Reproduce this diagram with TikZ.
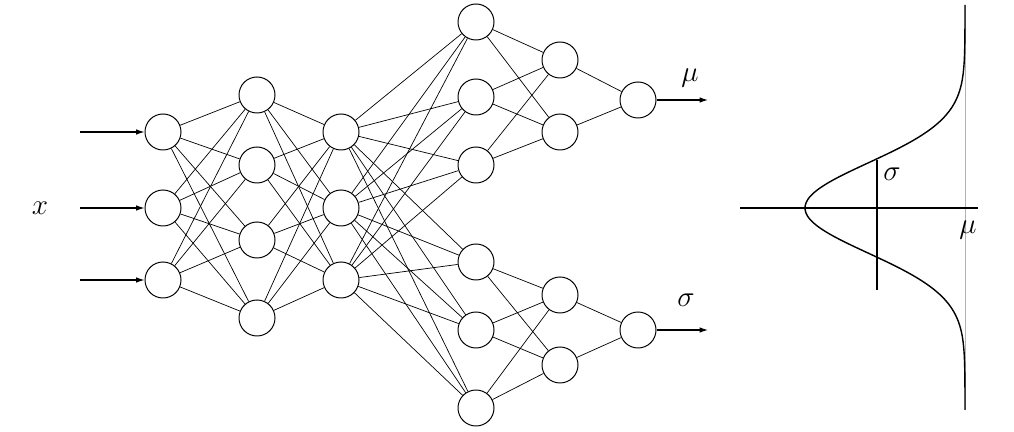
\documentclass[tikz,border=0pt]{standalone}
\usetikzlibrary{arrows.meta}
\begin{document}
\begin{tikzpicture}[x=0.025cm,y=-0.025cm,
  neuron/.style={circle,draw,line width=0.7pt,minimum size=0.9cm,inner sep=0pt,fill=white},
  edge/.style={line width=0.5pt},
  lab/.style={font=\fontsize{20}{24}\selectfont},
  arr/.style={line width=0.8pt,-{Latex[length=6pt,width=4pt]}}]
\useasboundingbox (0,0) rectangle (1014,432);
% nodes
\foreach \i/\y in {1/132,2/208,3/280} \node[neuron] (a\i) at (163,\y) {};
\foreach \i/\y in {1/95,2/165,3/240,4/318} \node[neuron] (b\i) at (257,\y) {};
\foreach \i/\y in {1/132,2/208,3/280} \node[neuron] (c\i) at (341,\y) {};
\foreach \i/\y in {1/22,2/97,3/165,4/262,5/330,6/408} \node[neuron] (d\i) at (476,\y) {};
\foreach \i/\y in {1/60,2/132,3/295,4/365} \node[neuron] (e\i) at (560,\y) {};
\node[neuron] (f1) at (638,100) {};
\node[neuron] (f2) at (638,330) {};
% edges
\foreach \i in {1,2,3} \foreach \j in {1,2,3,4} \draw[edge] (a\i) -- (b\j);
\foreach \i in {1,2,3,4} \foreach \j in {1,2,3} \draw[edge] (b\i) -- (c\j);
\foreach \i in {1,2,3} \foreach \j in {1,...,6} \draw[edge] (c\i) -- (d\j);
\foreach \i in {1,2,3} \foreach \j in {1,2} \draw[edge] (d\i) -- (e\j);
\foreach \i in {4,5,6} \foreach \j in {3,4} \draw[edge] (d\i) -- (e\j);
\foreach \j in {1,2} \draw[edge] (e\j) -- (f1);
\foreach \j in {3,4} \draw[edge] (e\j) -- (f2);
% inputs / outputs
\foreach \i/\y in {1/132,2/208,3/280} {\coordinate (in\i) at (80,\y); \draw[arr] (in\i) -- (a\i);}
\node[lab] (x) at (40,208) {$x$};
\coordinate (mu) at (708,100); \draw[arr] (f1) -- (mu);
\coordinate (sg) at (708,330); \draw[arr] (f2) -- (sg);
\node[lab] (mulab) at (690,78) {$\mu$};
\node[lab] (sglab) at (686,300) {$\sigma$};
% gaussian
\draw[gray!60,line width=0.6pt] (965,5) -- (965,410);
\draw[line width=1.2pt] (740,208) -- (978,208);
\draw[line width=1.2pt] (877,160) -- (877,290);
\draw[line width=1pt,smooth,samples=120,domain=5:410,variable=\t] plot ({965-160*exp(-((\t-208)/45)^2/2)},\t);
\node[lab] (sgg) at (892,174) {$\sigma$};
\node[lab] (muu) at (968,230) {$\mu$};
\end{tikzpicture}
\end{document}
